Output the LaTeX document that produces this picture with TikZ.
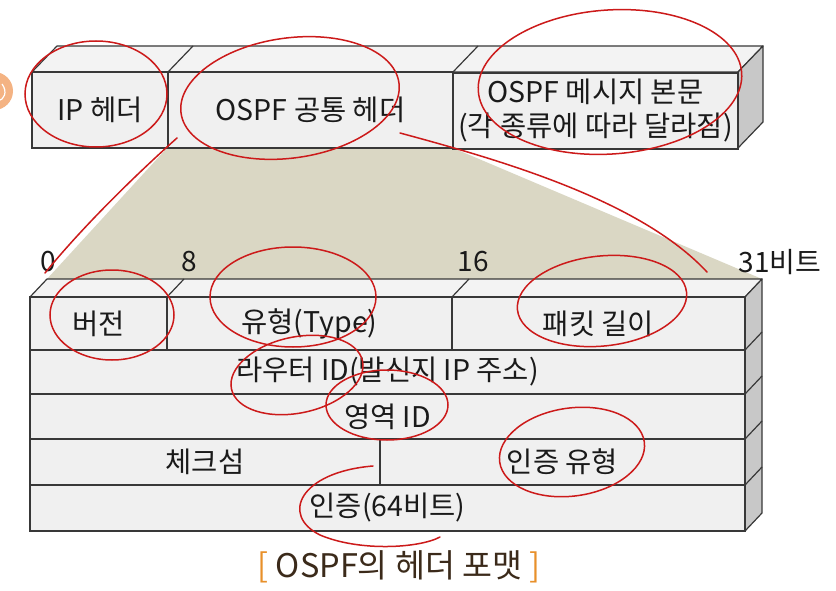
\documentclass[tikz,border=0pt]{standalone}
\usepackage{fontspec}
\setmainfont{Noto Sans CJK KR}
\definecolor{boxfront}{HTML}{F0F0F0}
\definecolor{boxtop}{HTML}{F3F3F3}
\definecolor{boxside}{HTML}{C8C8C8}
\definecolor{edge}{HTML}{383838}
\definecolor{beige}{HTML}{DAD7C4}
\definecolor{penred}{HTML}{CC1A1A}
\definecolor{txt}{HTML}{1A1A1A}
\definecolor{capbrown}{HTML}{3B2A1A}
\definecolor{caporange}{HTML}{E8902A}
\definecolor{decor}{HTML}{F4B383}
\begin{document}
\begin{tikzpicture}[x=1pt,y=-1pt,
  cell/.style={draw=edge, fill=boxfront, line width=1.2pt, inner sep=0pt,
    minimum height=#1, text=txt, font=\fontsize{28.5}{34}\selectfont},
  face/.style={draw=edge, fill=boxtop, line width=1.2pt, line join=round},
  sideface/.style={draw=edge, fill=boxside, line width=1.2pt, line join=round},
  edgeline/.style={draw=edge, line width=1.2pt},
  numlbl/.style={text=txt, inner sep=0pt, font=\fontsize{28}{32}\selectfont},
  redpen/.style={draw=penred, line width=1.5pt, line cap=round}]
\useasboundingbox (0,0) rectangle (836,591);
\fill[white] (0,0) rectangle (836,591);
% left decoration
\fill[decor] (-6,91) circle (19);
\draw[white, line width=1.2pt] (2,84) .. controls (8,92) and (4,100) .. (-2,101);

% beige trapezoid
\fill[beige] (167,148) -- (453,148) -- (762,279) -- (47,279) -- cycle;

% ---------- top bar ----------
\path[face] (32,72) -- (57,46) -- (763,46) -- (738,72) -- cycle;
\path[sideface] (738,72) -- (763,46) -- (763,122) -- (738,148) -- cycle;
\draw[edgeline] (168,72) -- (193,46);
\draw[edgeline] (453,72) -- (478,46);
\node[cell=76pt, minimum width=136pt] (ip) at (100,110) {IP 헤더};
\node[cell=76pt, minimum width=285pt] (common) at (310.5,110) {OSPF 공통 헤더};
\node[cell=76pt, minimum width=285pt, align=center] (msg) at (595.5,111)
  {OSPF 메시지 본문\\(각 종류에 따라 달라짐)};

% ---------- lower block ----------
\path[face] (30,297) -- (47,279) -- (762,279) -- (745,297) -- cycle;
\path[sideface] (745,297) -- (762,279) -- (762,513) -- (745,531) -- cycle;
\draw[edgeline] (167,297) -- (184,279);
\draw[edgeline] (452,297) -- (469,279);
\foreach \yy in {350,394,439,485} \draw[edgeline] (745,\yy) -- (762,\yy-18);
\node[cell=53pt, minimum width=137pt] (ver) at (98.5,323.5) {버전};
\node[cell=53pt, minimum width=285pt] (type) at (309.5,323.5) {유형(Type)};
\node[cell=53pt, minimum width=293pt] (len) at (598.5,323.5) {패킷 길이};
\node[cell=44pt, minimum width=715pt] (rid) at (387.5,372) {라우터 ID(발신지 IP 주소)};
\node[cell=45pt, minimum width=715pt] (area) at (387.5,416.5) {영역 ID};
\node[cell=46pt, minimum width=350pt] (chk) at (205,462) {체크섬};
\node[cell=46pt, minimum width=365pt] (atype) at (562.5,462) {인증 유형};
\node[cell=46pt, minimum width=715pt] (auth) at (387.5,508) {인증(64비트)};

% bit labels
\node[numlbl] (b0) at (48,262) {0};
\node[numlbl] (b8) at (189,262) {8};
\node[numlbl] (b16) at (473,262) {16};
\node[numlbl] (b31) at (780,262) {31비트};

% caption
\node[text=capbrown, inner sep=0pt, font=\fontsize{32.5}{38}\selectfont] (cap) at (399,567)
  {\textcolor{caporange}{[} OSPF의 헤더 포맷 \textcolor{caporange}{]}};

% ---------- red annotations ----------
\draw[redpen] (96,94) ellipse [x radius=71, y radius=53];
\draw[redpen, rotate around={8:(290,98)}] (290,98) ellipse [x radius=110, y radius=60];
\draw[redpen, rotate around={4:(610,82)}] (610,82) ellipse [x radius=132, y radius=72];
\draw[redpen] (400,133) .. controls (500,160) and (640,200) .. (707,272);
\draw[redpen] (177,138) .. controls (130,180) and (80,230) .. (45,273);
\draw[redpen] (112,315) ellipse [x radius=62, y radius=45];
\draw[redpen] (293,297) ellipse [x radius=83, y radius=50];
\draw[redpen, rotate around={6:(602,301)}] (602,301) ellipse [x radius=85, y radius=45];
\draw[redpen, rotate around={12:(297,375)}] (297,375) ellipse [x radius=67, y radius=38];
\draw[redpen] (387,405) ellipse [x radius=61, y radius=35];
\draw[redpen, rotate around={8:(572,452)}] (572,452) ellipse [x radius=73, y radius=44];
\draw[redpen] (373,466) .. controls (300,472) and (280,515) .. (320,535)
  .. controls (360,552) and (420,548) .. (440,537);
\end{tikzpicture}
\end{document}
